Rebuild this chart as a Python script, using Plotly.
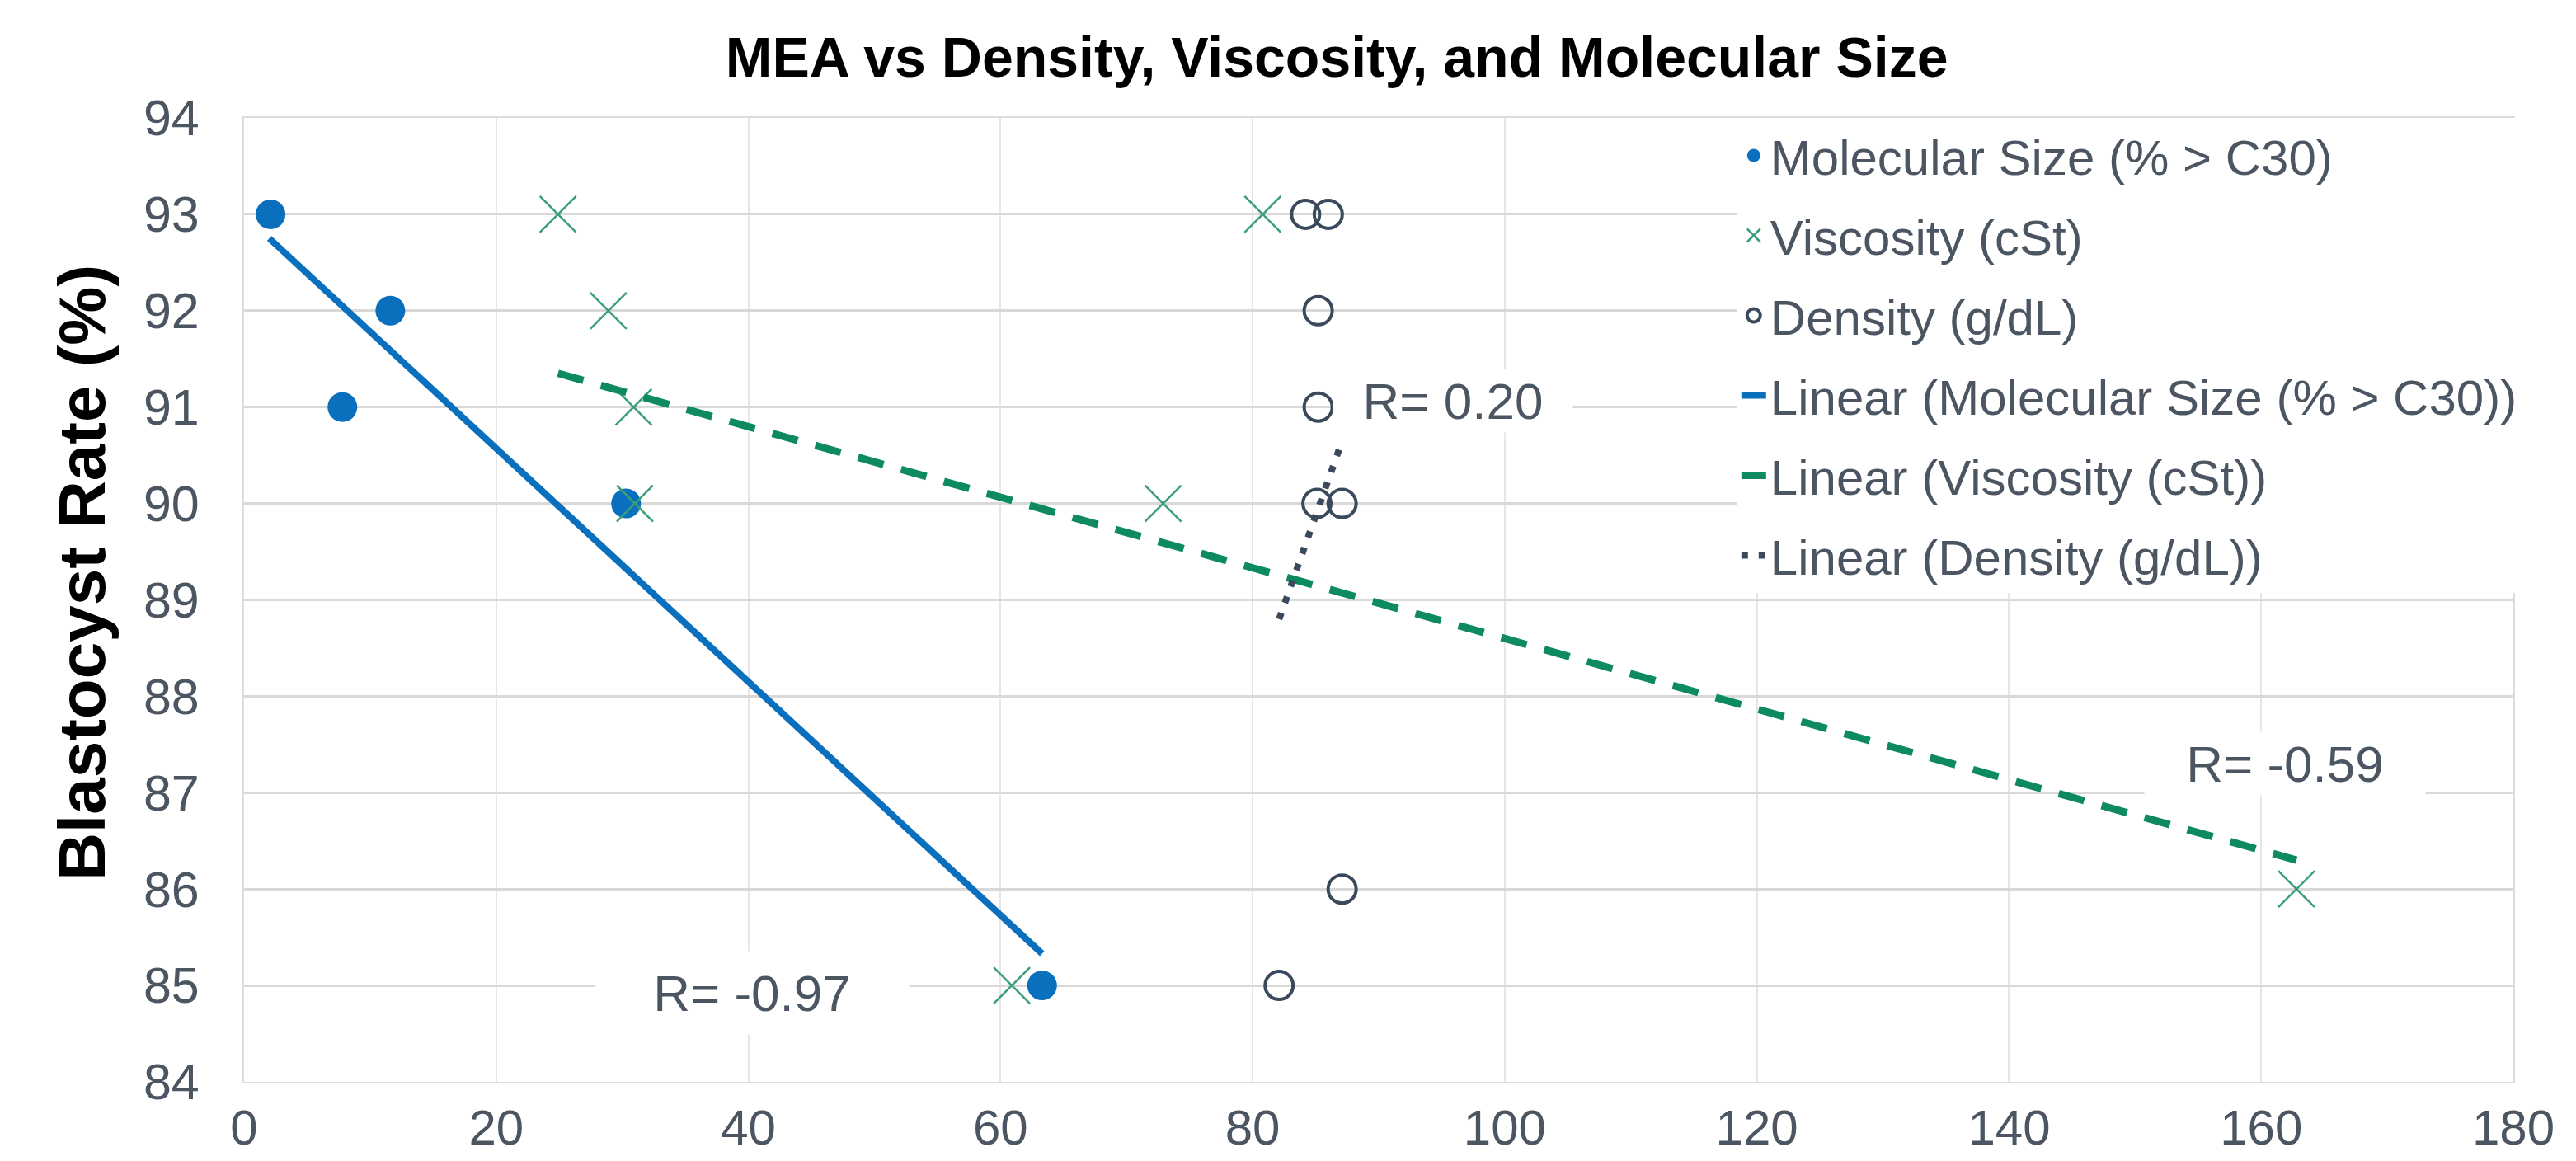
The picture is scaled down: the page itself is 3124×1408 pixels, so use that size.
import plotly.graph_objects as go

# ---- data ----
mol_x = [2.1, 7.8, 11.6, 30.3, 63.3]
mol_y = [93, 91, 92, 90, 85]

visc_x = [24.9, 28.9, 30.9, 31.0, 60.9, 72.9, 80.8, 162.8]
visc_y = [93, 92, 91, 90, 85, 90, 93, 86]

dens_x = [84.2, 86.0, 85.2, 85.2, 85.1, 87.1, 87.1, 82.1]
dens_y = [93, 93, 92, 91, 90, 90, 86, 85]

# trend line end points
mol_trend_x = [2.0, 63.3]
mol_trend_y = [92.75, 85.33]
visc_trend_x = [24.9, 162.8]
visc_trend_y = [91.35, 86.3]
dens_trend_x = [82.1, 87.1]
dens_trend_y = [88.8, 90.65]

r_labels = ["R= -0.97", "R= 0.20", "R= -0.59"]
r_x = [40.3, 95.9, 161.9]
r_y = [84.92, 91.07, 87.30]
r_box_w = [380, 290, 340]
r_box_h = [100, 76, 76]

x_ticks = list(range(0, 181, 20))
y_ticks = list(range(84, 95))

FONT = "Liberation Sans, Arial, Helvetica, sans-serif"
TICK_COL = "#4b5662"
BLUE = "#0a6fbd"
GREEN_M = "#3a9e78"
GREEN_L = "#0e8a5f"
SLATE = "#3a4a5c"

fig = go.Figure()

fig.add_trace(go.Scatter(
    x=mol_x, y=mol_y, mode="markers", name="Molecular Size (% > C30)",
    legendgroup="a",
    marker=dict(symbol="circle", size=36, color=BLUE)))
fig.add_trace(go.Scatter(
    x=visc_x, y=visc_y, mode="markers", name="Viscosity (cSt)",
    legendgroup="b",
    marker=dict(symbol="x-thin", size=44, color=GREEN_M,
                line=dict(width=2.5, color=GREEN_M))))
fig.add_trace(go.Scatter(
    x=dens_x, y=dens_y, mode="markers", name="Density (g/dL)",
    legendgroup="c",
    marker=dict(symbol="circle-open", size=34, color=SLATE,
                line=dict(width=4, color=SLATE))))
fig.add_trace(go.Scatter(
    x=mol_trend_x, y=mol_trend_y, mode="lines",
    name="Linear (Molecular Size (% > C30))", legendgroup="d",
    line=dict(color=BLUE, width=8)))
fig.add_trace(go.Scatter(
    x=visc_trend_x, y=visc_trend_y, mode="lines",
    name="Linear (Viscosity (cSt))", legendgroup="e",
    line=dict(color=GREEN_L, width=9, dash="32px,22px")))
fig.add_trace(go.Scatter(
    x=dens_trend_x, y=dens_trend_y, mode="lines",
    name="Linear (Density (g/dL))", legendgroup="f",
    line=dict(color=SLATE, width=8, dash="8px,13px")))

for t, xx, yy, w, h in zip(r_labels, r_x, r_y, r_box_w, r_box_h):
    fig.add_annotation(x=xx, y=yy, xref="x", yref="y", text=t,
                       showarrow=False, bgcolor="white", borderpad=0,
                       width=w, height=h, align="center", valign="middle",
                       font=dict(family=FONT, size=62, color=TICK_COL))

fig.add_annotation(text="<b>Blastocyst Rate (%)</b>", xref="paper", yref="paper",
                   x=-0.0712, y=0.528, textangle=-90, showarrow=False,
                   xanchor="center", yanchor="middle",
                   font=dict(family=FONT, size=80, color="black"))

# the page places the figure 8px from the top-left corner
fig.update_layout(
    width=3116, height=1400,
    paper_bgcolor="white", plot_bgcolor="white",
    margin=dict(l=288, r=76, t=135, b=96, autoexpand=False),
    title=dict(text="<b>MEA vs Density, Viscosity, and Molecular Size</b>",
               x=0.5177, xref="container", xanchor="center",
               y=0.956, yref="container", yanchor="middle",
               font=dict(family=FONT, size=68, color="black")),
    font=dict(family=FONT, color=TICK_COL),
    legend=dict(x=0.658, y=1.0, xanchor="left", yanchor="top",
                bgcolor="white", font=dict(family=FONT, size=60, color=TICK_COL),
                tracegroupgap=16, traceorder="grouped"),
    xaxis=dict(range=[0, 180], tickvals=x_ticks, showgrid=True,
               gridcolor="#e6e6e6", gridwidth=1.5, zeroline=False,
               showline=True, linecolor="#dcdcdc", linewidth=2, mirror=True,
               tickfont=dict(family=FONT, size=60, color=TICK_COL),
               ticklabelstandoff=2, automargin=False),
    yaxis=dict(range=[84, 94], tickvals=y_ticks, showgrid=True,
               gridcolor="#d9d9d9", gridwidth=2.5, zeroline=False,
               showline=True, linecolor="#dcdcdc", linewidth=2, mirror=True,
               tickfont=dict(family=FONT, size=61, color=TICK_COL),
               ticklabelstandoff=40, automargin=False),
)

fig.write_html("out.html")
